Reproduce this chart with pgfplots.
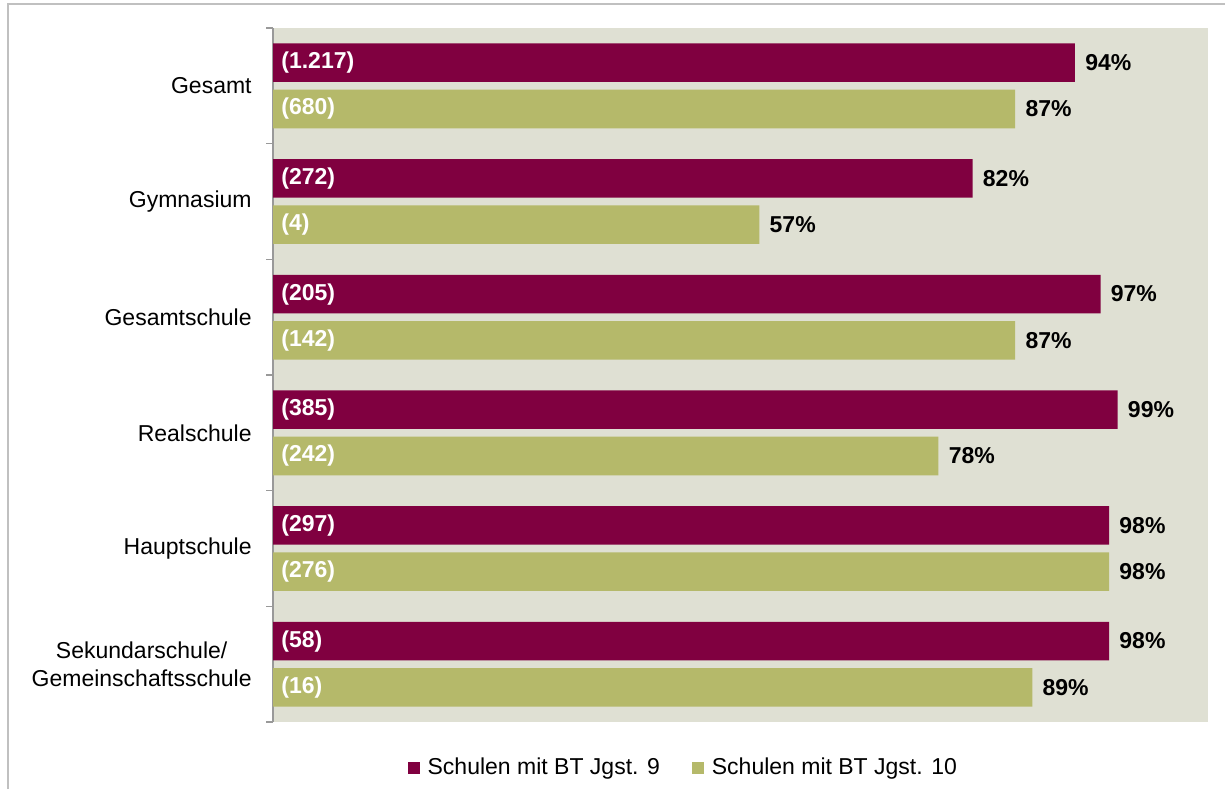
\documentclass[border=0pt]{standalone}
\usepackage{fontspec}
\setmainfont{Liberation Sans}
\usepackage{pgfplots}
\usepackage{pgfplotstable}
\pgfplotsset{compat=1.18}

\definecolor{bt9}{RGB}{128,0,64}
\definecolor{bt10}{RGB}{181,185,106}
\definecolor{plotbg}{RGB}{223,224,211}
\definecolor{framegray}{RGB}{192,192,192}

% y = Schulform (0 = oben), pct = Anteil in %, n = Anzahl Schulen
\pgfplotstableread{
y pct n
0 94 1217
1 82 272
2 97 205
3 99 385
4 98 297
5 98 58
}\jgstnine

\pgfplotstableread{
y pct n
0 87 680
1 57 4
2 87 142
3 78 242
4 98 276
5 89 16
}\jgstzehn

\newcommand{\chartfont}{\fontsize{11.5}{13.85}\selectfont}

\begin{document}
\begin{tikzpicture}
\path[use as bounding box] (0,0) rectangle (612.5pt,-394.5pt);
\draw[framegray, line width=1pt] (3.75pt,-394.5pt) -- (3.75pt,-2pt) -- (612.5pt,-2pt);
\begin{axis}[
    at={(136.5pt,-361pt)}, anchor=south west,
    scale only axis, width=467.5pt, height=347pt,
    xmin=0, xmax=109.6,
    ymin=-0.5, ymax=5.5, y dir=reverse,
    hide x axis,
    axis y line*=left,
    axis line style={draw=gray!80, line width=0.6pt},
    axis background/.style={fill=plotbg},
    clip=false,
    /pgf/number format/assume math mode=true,
    ytick={0,...,5},
    yticklabels={Gesamt, Gymnasium, Gesamtschule, Realschule, Hauptschule,
        {Sekundarschule/\\Gemeinschaftsschule}},
    major tick length=0pt,
    minor ytick={-0.5,0.5,...,5.5},
    minor tick length=3.5pt,
    tick align=outside,
    minor tick style={draw=gray!80, line width=0.6pt},
    yticklabel style={align=center, inner sep=0pt, xshift=-10.5pt, font=\chartfont},
    legend style={at={(0.442,-0.066)}, anchor=center, draw=none, fill=none,
        font=\chartfont, legend columns=2,
        nodes={inner xsep=4pt},
        /tikz/every even column/.append style={column sep=12pt}},
]

\addplot[xbar, bar width=0.333, bar shift=0, fill=bt9, draw=none,
    legend image code/.code={\fill[bt9] (0pt,-3pt) rectangle (6pt,3pt);},
    nodes near coords={\pgfmathprintnumber{\pgfplotspointmeta}\%},
    every node near coord/.append style={anchor=west, inner sep=0pt, xshift=5pt,
        font=\chartfont\bfseries, text=black}]
    table[x=pct, y expr=\thisrow{y}-0.2] {\jgstnine};
\addplot[xbar, bar width=0.333, bar shift=0, draw=none, fill=none, forget plot,
    point meta=\thisrow{n},
    nodes near coords={(\pgfmathprintnumber[1000 sep={.}]{\pgfplotspointmeta})},
    every node near coord/.append style={anchor=west, inner sep=0pt, xshift=4pt,
        font=\chartfont\bfseries, text=white}]
    table[x expr=0, y expr=\thisrow{y}-0.2] {\jgstnine};

\addplot[xbar, bar width=0.333, bar shift=0, fill=bt10, draw=none,
    legend image code/.code={\fill[bt10] (0pt,-3pt) rectangle (6pt,3pt);},
    nodes near coords={\pgfmathprintnumber{\pgfplotspointmeta}\%},
    every node near coord/.append style={anchor=west, inner sep=0pt, xshift=5pt,
        font=\chartfont\bfseries, text=black}]
    table[x=pct, y expr=\thisrow{y}+0.2] {\jgstzehn};
\addplot[xbar, bar width=0.333, bar shift=0, draw=none, fill=none, forget plot,
    point meta=\thisrow{n},
    nodes near coords={(\pgfmathprintnumber[1000 sep={.}]{\pgfplotspointmeta})},
    every node near coord/.append style={anchor=west, inner sep=0pt, xshift=4pt,
        font=\chartfont\bfseries, text=white}]
    table[x expr=0, y expr=\thisrow{y}+0.2] {\jgstzehn};

\legend{Schulen mit BT Jgst. 9, Schulen mit BT Jgst. 10}
\end{axis}
\end{tikzpicture}
\end{document}
